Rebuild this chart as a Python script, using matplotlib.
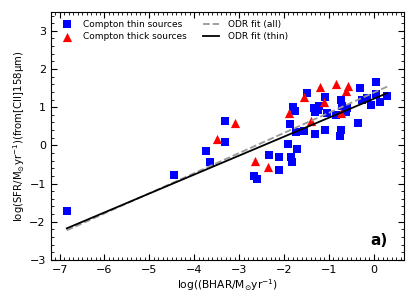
import numpy as np
import matplotlib
matplotlib.use("Agg")
import matplotlib.pyplot as plt
from matplotlib.ticker import MultipleLocator

# Compton thin sources (blue squares)
thin_x = [-6.84, -4.45, -3.73, -3.64, -3.31, -3.31, -2.66, -2.61, -2.33, -2.11,
          -2.11, -1.90, -1.86, -1.85, -1.83, -1.80, -1.76, -1.74, -1.72, -1.56,
          -1.49, -1.33, -1.31, -1.30, -1.24, -1.22, -1.09, -1.09, -1.04, -0.85,
          -0.76, -0.74, -0.72, -0.70, -0.61, -0.59, -0.36, -0.31, -0.27, -0.16,
          -0.07, 0.05, 0.06, 0.13, 0.30]
thin_y = [-1.73, -0.78, -0.14, -0.43, 0.63, 0.09, -0.79, -0.89, -0.25, -0.30,
          -0.64, 0.03, 0.56, -0.30, -0.44, 1.01, 0.91, 0.36, -0.10, 0.38,
          1.36, 0.99, 0.88, 0.29, 0.93, 1.03, 1.27, 0.40, 0.84, 0.79,
          0.25, 0.40, 1.19, 1.03, 0.88, 0.99, 0.58, 1.49, 1.19, 1.23,
          1.06, 1.67, 1.35, 1.13, 1.30]

# Compton thick sources (red triangles)
thick_x = [-3.50, -3.10, -2.64, -2.35, -1.88, -1.56, -1.39, -1.19, -1.11, -0.85,
           -0.72, -0.61, -0.57]
thick_y = [0.16, 0.58, -0.41, -0.56, 0.84, 1.27, 0.65, 1.52, 1.14, 1.62,
           0.84, 1.43, 1.55]

# ODR fits: slope, intercept
fit_all = (0.527, 1.38)
fit_thin = (0.496, 1.22)

all_x = np.array(thin_x + thick_x)
xx = np.array([all_x.min(), all_x.max()])

fig = plt.figure(figsize=(4.15, 3.08), dpi=100)
ax = fig.add_axes([0.122, 0.156, 0.851, 0.806])

ax.scatter(thin_x, thin_y, marker='s', s=40, color='blue', linewidths=0,
           label='Compton thin sources', zorder=2)
ax.scatter(thick_x, thick_y, marker='^', s=44, color='red', linewidths=0,
           label='Compton thick sources', zorder=2)
ax.plot(xx, fit_all[0] * xx + fit_all[1], '--', color='#999999', lw=1.3,
        label='ODR fit (all)', zorder=3)
ax.plot(xx, fit_thin[0] * xx + fit_thin[1], '-', color='black', lw=1.3,
        label='ODR fit (thin)', zorder=3)

ax.set_xlim(-7.2, 0.67)
ax.set_ylim(-3, 3.5)
ax.xaxis.set_minor_locator(MultipleLocator(0.1))
ax.yaxis.set_minor_locator(MultipleLocator(0.2))
ax.tick_params(which='both', direction='in', top=True, right=True, labelsize=8)
ax.tick_params(which='major', length=4)
ax.tick_params(which='minor', length=2)

ax.set_xlabel(r'log((BHAR/M$_{\odot}$yr$^{-1}$)', fontsize=7.7, labelpad=2)
ax.set_ylabel(r'log(SFR/M$_{\odot}$yr$^{-1}$)(from[CII]158μm)', fontsize=7.3)
ax.yaxis.set_label_coords(-0.068, 0.5)

ax.text(0.93, 0.08, 'a)', transform=ax.transAxes, fontsize=11,
        fontweight='bold', ha='center', va='center')

ax.legend(ncol=2, loc='upper left', frameon=False, fontsize=6.5,
          handlelength=1.8, columnspacing=1.8, borderaxespad=0.5,
          labelspacing=0.4, handletextpad=0.9)

fig.savefig('out.png', dpi=100)
